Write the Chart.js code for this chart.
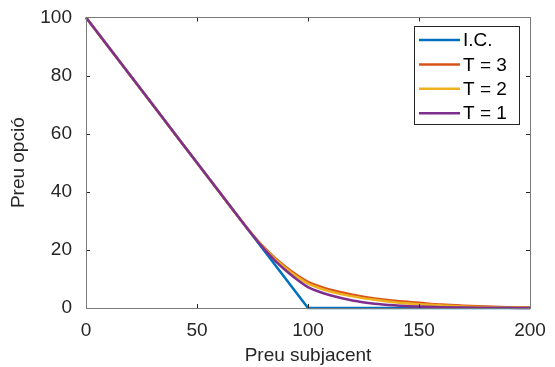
<!DOCTYPE html>
<html>
<head>
<meta charset="utf-8">
<script src="https://cdn.jsdelivr.net/npm/chart.js@4.4.0/dist/chart.umd.min.js"></script>
<style>
  html, body { margin: 0; padding: 0; background: #fff; }
  #wrap { width: 555px; height: 367px; }
</style>
</head>
<body>
<div id="wrap"><canvas id="put-chart" width="555" height="367"></canvas></div>
<script>
// underlying price grid and option prices
const spot = [0, 10, 20, 30, 40, 50, 60, 70, 75, 80, 85, 90, 95, 100, 105, 110, 120, 130, 140, 150, 160, 170, 180, 190, 200];
const t3 = [100, 90, 80, 70, 60, 50, 40, 30, 25.3, 21.0, 17.3, 14.1, 11.3, 9.0, 7.5, 6.3, 4.6, 3.3, 2.4, 1.8, 1.2, 0.8, 0.5, 0.3, 0.2];
const t2 = [100, 90, 80, 70, 60, 50, 40, 30, 25.2, 20.8, 17.0, 13.7, 10.8, 8.4, 6.9, 5.7, 4.0, 2.8, 1.9, 1.3, 0.9, 0.5, 0.3, 0.2, 0.1];
const t1 = [100, 90, 80, 70, 60, 50, 40, 30, 25.1, 20.5, 16.4, 12.9, 9.8, 7.2, 5.6, 4.4, 2.6, 1.5, 0.9, 0.5, 0.3, 0.15, 0.1, 0.05, 0];
const icSpot = [0, 100, 200];
const icValue = [100, 0, 0];
const xTicks = [0, 50, 100, 150, 200];
const yTicks = [0, 20, 40, 60, 80, 100];

const seriesNames = ["I.C.", "T = 3", "T = 2", "T = 1"];
const seriesColors = ["#0072BD", "#D95319", "#EDB120", "#7E2F8E"];

const toPoints = (xs, ys) => xs.map((x, i) => ({ x: x, y: ys[i] }));
const seriesData = [toPoints(icSpot, icValue), toPoints(spot, t3), toPoints(spot, t2), toPoints(spot, t1)];

const font = "'Liberation Sans', Arial, sans-serif";
const axisColor = "#262626";

// matlab style box, inward ticks and legend inside the axes
const matlabAxes = {
    id: "matlabAxes",
    afterDatasetsDraw(chart) {
        const ctx = chart.ctx;
        const a = chart.chartArea;
        const xs = chart.scales.x, ys = chart.scales.y;
        ctx.save();
        ctx.strokeStyle = axisColor;
        ctx.lineWidth = 1;
        ctx.beginPath();
        xTicks.forEach(v => {
            const px = Math.round(xs.getPixelForValue(v)) + 0.5;
            ctx.moveTo(px, a.bottom); ctx.lineTo(px, a.bottom - 4);
            ctx.moveTo(px, a.top); ctx.lineTo(px, a.top + 4);
        });
        yTicks.forEach(v => {
            const py = Math.round(ys.getPixelForValue(v)) + 0.5;
            ctx.moveTo(a.left, py); ctx.lineTo(a.left + 4, py);
            ctx.moveTo(a.right, py); ctx.lineTo(a.right - 4, py);
        });
        ctx.stroke();
        ctx.strokeStyle = "#7a7a7a";
        ctx.strokeRect(Math.round(a.left) + 0.5, Math.round(a.top) + 0.5,
            Math.round(a.right - a.left), Math.round(a.bottom - a.top));

        // legend
        const box = { left: 414, top: 26, right: 519, bottom: 124 };
        ctx.fillStyle = "#fff";
        ctx.fillRect(box.left, box.top, box.right - box.left, box.bottom - box.top);
        ctx.strokeStyle = axisColor;
        ctx.strokeRect(box.left + 0.5, box.top + 0.5, box.right - box.left, box.bottom - box.top);
        ctx.font = "19px " + font;
        ctx.textBaseline = "middle";
        chart.data.datasets.forEach((ds, i) => {
            const y = 40 + i * 24.4;
            ctx.strokeStyle = ds.borderColor;
            ctx.lineWidth = 2.5;
            ctx.beginPath();
            ctx.moveTo(419, y); ctx.lineTo(460, y);
            ctx.stroke();
            ctx.fillStyle = "#000";
            ctx.fillText(ds.label, 463, y + 1);
        });
        ctx.restore();
    }
};

const datasets = seriesNames.map((name, i) => ({
    label: name,
    data: seriesData[i],
    borderColor: seriesColors[i],
    backgroundColor: seriesColors[i],
    borderWidth: 2.5,
    pointRadius: 0,
    tension: i === 0 ? 0 : 0.3,
    cubicInterpolationMode: i === 0 ? "default" : "monotone",
    clip: false,
    order: 3 - i
}));

new Chart(document.getElementById("put-chart"), {
    type: "line",
    data: { datasets: datasets },
    options: {
        responsive: false,
        animation: false,
        layout: { padding: { top: 16, right: 25, left: 0, bottom: 0 } },
        plugins: { legend: { display: false }, tooltip: { enabled: false } },
        scales: {
            x: {
                type: "linear",
                min: 0, max: 200,
                afterFit: s => { s.height = 59; },
                afterBuildTicks: s => { s.ticks = xTicks.map(v => ({ value: v })); },
                grid: { display: false },
                border: { display: false },
                ticks: { color: axisColor, font: { family: font, size: 19 }, padding: 3 },
                title: { display: true, text: "Preu subjacent", color: axisColor,
                         font: { family: font, size: 19 }, padding: { top: 0, bottom: 0 } }
            },
            y: {
                type: "linear",
                min: 0, max: 100,
                afterFit: s => { s.width = 86; },
                afterBuildTicks: s => { s.ticks = yTicks.map(v => ({ value: v })); },
                grid: { display: false },
                border: { display: false },
                ticks: { color: axisColor, font: { family: font, size: 19 }, padding: 6 },
                title: { display: true, text: "Preu opció", color: axisColor,
                         font: { family: font, size: 19 }, padding: { top: 7, bottom: 0 } }
            }
        }
    },
    plugins: [matlabAxes]
});
</script>
</body>
</html>
